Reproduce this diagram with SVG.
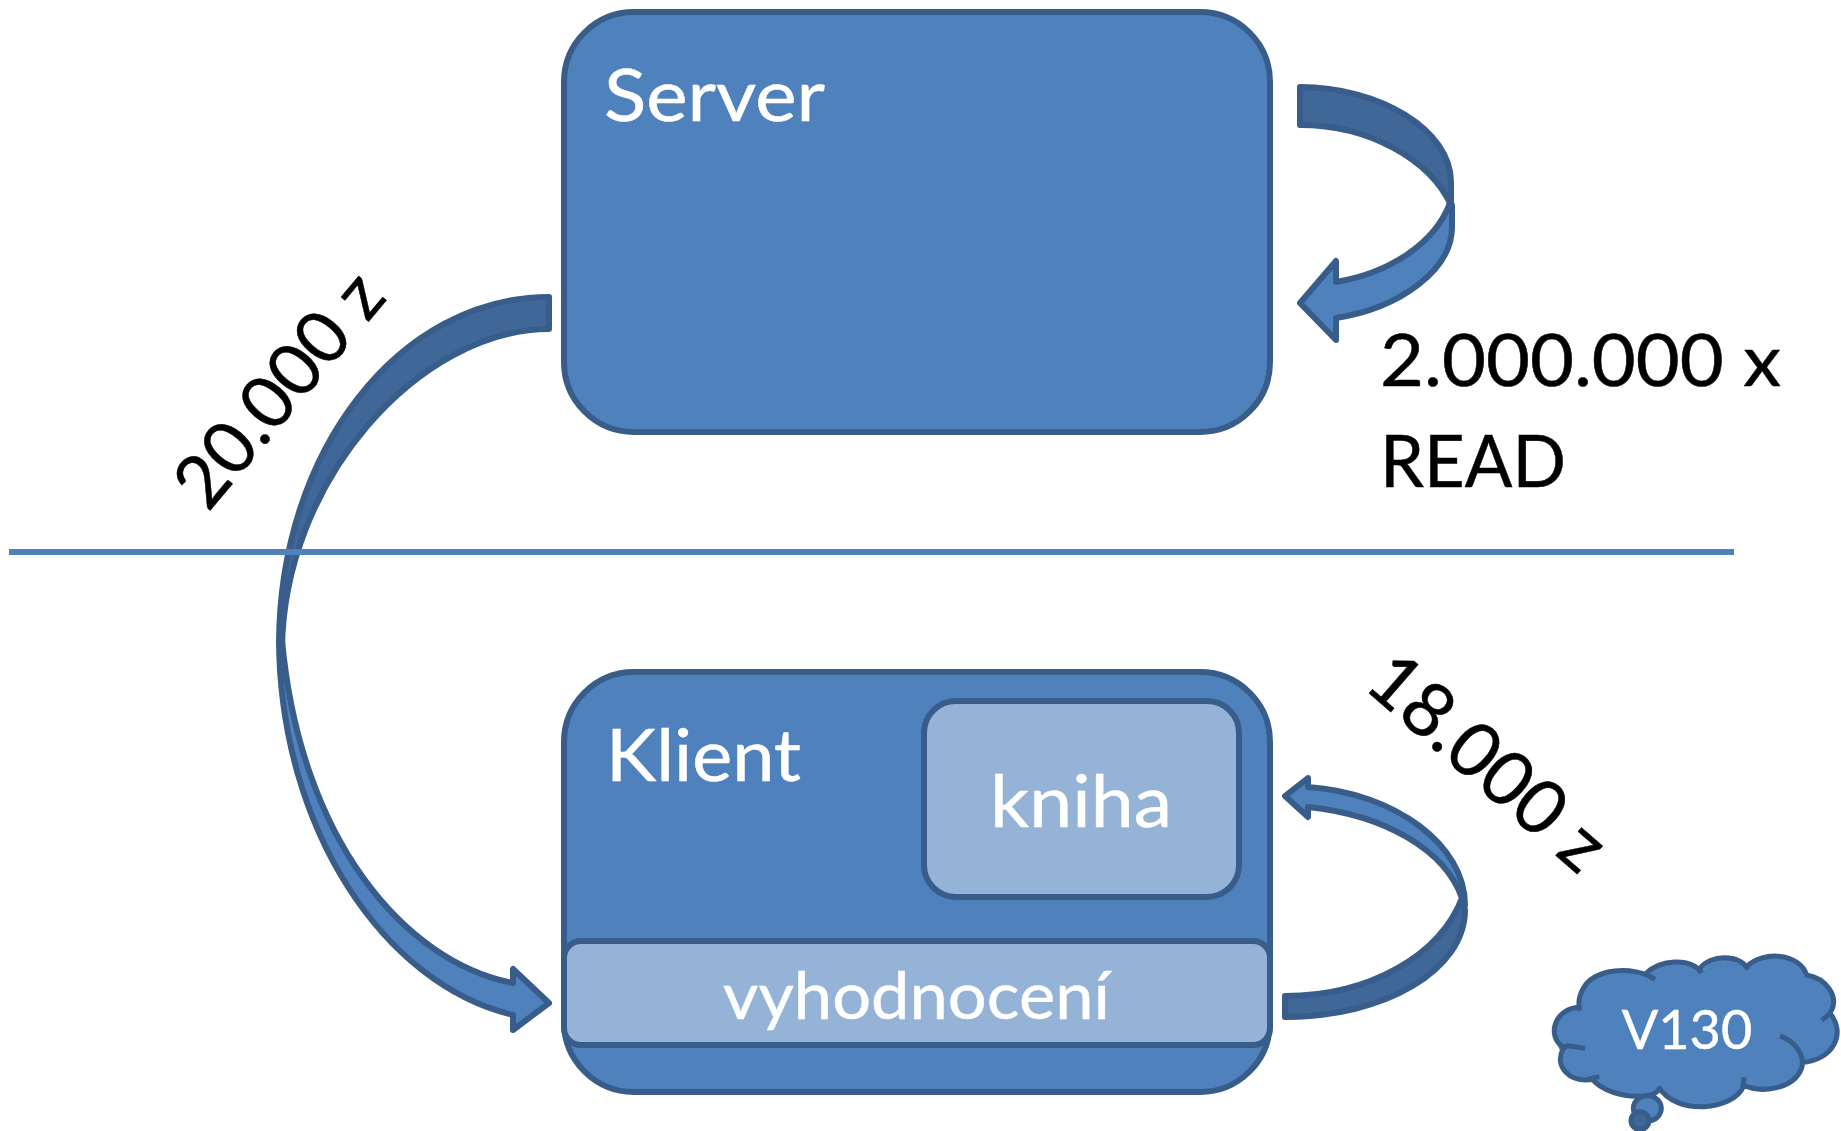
<svg xmlns="http://www.w3.org/2000/svg" width="1841" height="1131" viewBox="0 0 1841 1131">
<style>
.b{fill:#4f81bd;stroke:#385d8a;stroke-width:6;stroke-linejoin:round}
.d{fill:#3f6797;stroke:#385d8a;stroke-width:6;stroke-linejoin:round}
.l{fill:#95b3d7;stroke:#385d8a;stroke-width:6}
text{font-family:"Lato","Open Sans",sans-serif;stroke-width:.5}
.w{fill:#fff;stroke:#fff}
.k{fill:#000;stroke:#000}
</style>
<rect width="1841" height="1131" fill="#fff"/>
<g id="server"><rect class="b" x="564" y="12" width="706" height="420" rx="70"/><text class="w" x="604" y="121" font-size="72" textLength="221" lengthAdjust="spacingAndGlyphs">Server</text></g>
<g id="klient"><rect class="b" x="564" y="672" width="706" height="420" rx="70"/><text class="w" x="606" y="781" font-size="72" textLength="195" lengthAdjust="spacingAndGlyphs">Klient</text></g>
<g id="kniha"><rect class="l" x="924" y="701" width="315" height="196" rx="32"/><text class="w" x="990" y="827" font-size="72" textLength="182" lengthAdjust="spacingAndGlyphs">kniha</text></g>
<g id="vyhodnoceni"><rect class="l" x="564" y="941" width="706" height="104" rx="17"/><text class="w" x="723" y="1019" font-size="66" textLength="387" lengthAdjust="spacingAndGlyphs">vyhodnocení</text></g>
<g id="v130">
<g transform="translate(1530 940) scale(.3333)">
<ellipse class="b" cx="352" cy="505" rx="42" ry="38" style="stroke-width:15"/>
<ellipse class="d" cx="330" cy="542" rx="27" ry="27" style="stroke-width:15"/>
<path d="M130 200L350 100L515 85L652 80L828 108L905 210L915 250L905 320L815 375L640 445L385 450L190 425L110 380L85 320L90 240Z" fill="#4f81bd"/>
<path d="M150 212Q140 180 160 145C190 85 310 75 375 118M348 100C390 60 480 50 515 98M510 85C540 45 625 40 655 88M650 80C700 30 810 40 830 105C890 115 925 170 905 210Q897 228 875 240M900 220C950 280 910 360 815 368M750 288C800 305 825 350 815 385C790 450 690 460 640 435L642 412M640 440C610 510 440 530 385 440M388 445Q380 465 345 467C280 475 210 450 185 415L208 410M190 418C120 430 70 380 100 325Q108 315 120 318L165 325M100 322C50 290 70 205 150 202" fill="#4f81bd" stroke="#385d8a" stroke-width="15"/>
</g>
<text class="w" x="1687" y="1049" font-size="54" text-anchor="middle">V130</text>
</g>
<g id="connectors">
<path class="b" d="M279 640C280 830 385 985 513 1015V1030L549 1003L513 969V983C405 962 300 840 282 640Z"/>
<path class="d" d="M549 297C400 297 279 450 279 645L282 650C283 480 420 329 549 329Z"/>
<path class="b" d="M1452 205V227C1452 270 1400 308 1336 318V340L1300 303L1336 261V282C1390 273 1435 243 1450 203Z"/>
<path class="d" d="M1300 87C1380 87 1451 130 1451 182V205C1430 160 1370 125 1300 125Z"/>
<path class="b" d="M1465 905C1465 845 1395 793 1308 787V778L1285 796L1308 817V807C1385 815 1445 850 1462 898Z"/>
<path class="d" d="M1285 996C1370 996 1440 955 1462 898L1465 910C1465 970 1385 1017 1285 1017Z"/>
<line x1="9" y1="552" x2="1734" y2="552" stroke="#4f81bd" stroke-width="6"/>
</g>
<text class="k" font-size="72" x="1380" y="386" textLength="401" lengthAdjust="spacingAndGlyphs">2.000.000 x</text>
<text class="k" font-size="72" x="1380" y="487" textLength="186" lengthAdjust="spacingAndGlyphs">READ</text>
<text class="k" font-size="73" transform="translate(208 513) rotate(-50)">20.000 z</text>
<text class="k" font-size="75" transform="translate(1362 687) rotate(41)">18.000 z</text>
</svg>
